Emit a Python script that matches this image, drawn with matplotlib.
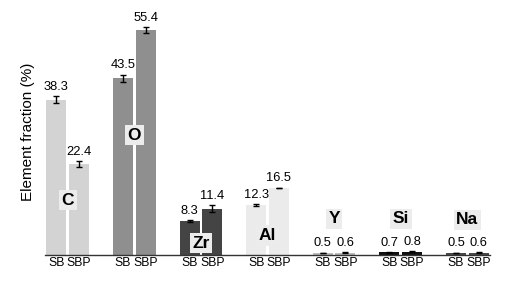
import matplotlib
matplotlib.use("Agg")
import matplotlib.pyplot as plt
import numpy as np

elements = ["C", "O", "Zr", "Al", "Y", "Si", "Na"]
samples = ["SB", "SBP"]
sb_values = [38.3, 43.5, 8.3, 12.3, 0.5, 0.7, 0.5]
sbp_values = [22.4, 55.4, 11.4, 16.5, 0.6, 0.8, 0.6]
sb_errors = [0.8, 0.9, 0.2, 0.3, 0.1, 0.1, 0.1]
sbp_errors = [0.8, 0.8, 0.8, 0.1, 0.1, 0.1, 0.1]
colors = ["#d3d3d3", "#8f8f8f", "#444444", "#ebebeb", "#bdbdbd", "#111111", "#4a4a4a"]
label_y = [13.5, 29.5, 2.9, 4.8, 8.9, 8.9, 8.7]

fam = ["Liberation Sans Narrow", "Liberation Sans", "DejaVu Sans"]
plt.rcParams["font.family"] = fam

fig = plt.figure(figsize=(5.31, 3.01), dpi=100)
ax = fig.add_axes([45/531, 46/301, 445/531, 243.6/301])

x = np.arange(len(elements))
off = 0.17
w = 0.30
for i in range(len(elements)):
    for j, (vals, errs) in enumerate([(sb_values, sb_errors), (sbp_values, sbp_errors)]):
        xp = x[i] + (-off if j == 0 else off)
        ax.bar(xp, vals[i], width=w, color=colors[i], edgecolor="none", zorder=2)
        ax.errorbar(xp, vals[i], yerr=errs[i], fmt="none", ecolor="black",
                    elinewidth=1.0, capsize=2.2, capthick=1.0, zorder=3)
        ax.text(xp, vals[i] + errs[i] + 0.8, f"{vals[i]}", ha="center", va="bottom",
                fontsize=9.3, zorder=4)
    ax.text(x[i], label_y[i], elements[i], ha="center", va="center", fontsize=12.5,
            fontweight="bold", zorder=5,
            bbox=dict(boxstyle="square,pad=0.15", fc="#ececec", ec="none"))

ticks = []
tlabels = []
for i in range(len(elements)):
    ticks += [x[i] - off, x[i] + off]
    tlabels += samples
ax.set_xticks(ticks)
ax.set_xticklabels(tlabels, fontsize=8.8)
ax.tick_params(axis="x", length=0, pad=1.5)
ax.set_yticks([])
ax.set_xlim(-0.34, 6.34)
ax.set_ylim(0, 60)
for s in ["top", "right", "left"]:
    ax.spines[s].set_visible(False)
ax.spines["bottom"].set_linewidth(1.0)
ax.spines["bottom"].set_color("#333333")
ax.set_ylabel("Element fraction (%)", fontsize=11)
ax.yaxis.set_label_coords(-0.022, 0.505)
fig.savefig("out.png", dpi=100)
